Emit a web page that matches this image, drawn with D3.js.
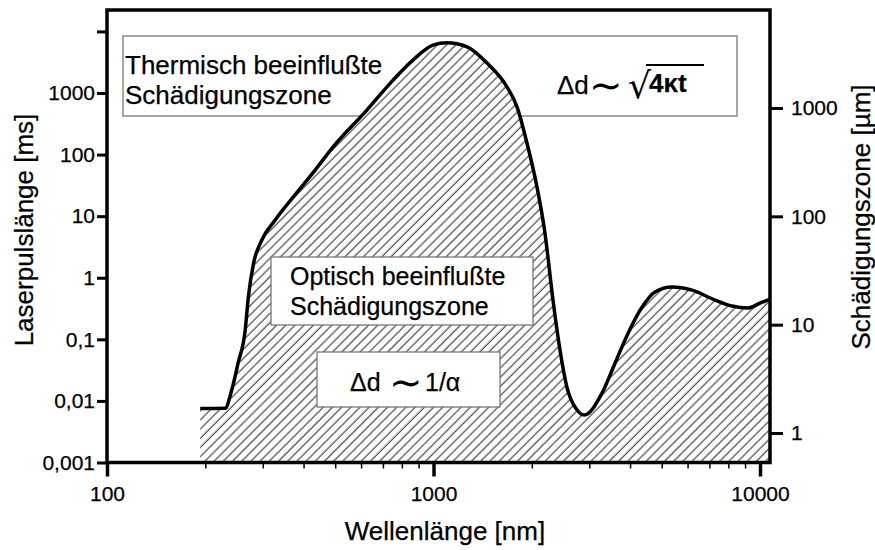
<!DOCTYPE html>
<html>
<head>
<meta charset="utf-8">
<script src="https://cdn.jsdelivr.net/npm/d3@7"></script>
<style>
    body { margin: 0; background: #fff; }
    text { font-family: "Liberation Sans", Arial, Helvetica, sans-serif; fill: #000; stroke: #000; stroke-width: 0.25px; }
</style>
</head>
<body>
<svg id="chart" width="875" height="550"></svg>
<script>

// wavelength [nm] and pulse length [ms]
const wavelength = [193, 230, 241, 252, 265, 271, 281, 298, 327, 376, 434, 492, 625, 752, 865, 996, 1100, 1267, 1459, 1680, 1803, 1933, 2075, 2195, 2323, 2440, 2562, 2752, 2893, 3282, 3597, 3945, 4355, 4768, 5375, 6189, 7279, 8204, 9183, 10000, 10738]
const pulse = [0.0075, 0.0076, 0.015, 0.041, 0.14, 0.49, 1.7, 4.1, 8.6, 22, 56, 132, 527, 1620, 3420, 6000, 6530, 5620, 3060, 1250, 590, 154, 29.7, 5.3, 0.43, 0.067, 0.0168, 0.0071, 0.0059, 0.0134, 0.041, 0.126, 0.334, 0.586, 0.706, 0.63, 0.435, 0.348, 0.322, 0.388, 0.451]

const leftTicks = [0.001, 0.01, 0.1, 1, 10, 100, 1000, 10000]
const leftTickLabels = ['0,001', '0,01', '0,1', '1', '10', '100', '1000', '']
const rightTicks = [1, 10, 100, 1000]
const rightTickLabels = ['1', '10', '100', '1000']
const xTicks = [100, 1000, 10000]
const xTickLabels = ['100', '1000', '10000']
const xMinorTicks = [200, 300, 400, 500, 600, 700, 800, 900, 2000, 3000, 4000, 5000, 6000, 7000, 8000, 9000]

const data = wavelength.map((w, i) => ({ w: w, v: pulse[i] }))

const frame = { left: 107, right: 770, top: 10, bottom: 462.5 }

const x = d3.scaleLog().domain([100, 10000]).range([107, 760])
const y = d3.scaleLog().domain([0.001, 1000]).range([462.5, 93])
const y2 = d3.scaleLog().domain([1, 1000]).range([433, 108])

const svg = d3.select('#chart')

svg.append('defs')
    .append('pattern')
    .attr('id', 'hatch')
    .attr('patternUnits', 'userSpaceOnUse')
    .attr('width', 6.5)
    .attr('height', 6.5)
    .attr('patternTransform', 'rotate(45)')
    .call(p => {
        p.append('rect').attr('width', 6.5).attr('height', 6.5).attr('fill', '#fff')
        p.append('line')
            .attr('x1', 3).attr('x2', 3)
            .attr('y1', 0).attr('y2', 6.5)
            .attr('stroke', '#222')
            .attr('stroke-width', 1)
    })

// box behind the curve
svg.append('rect')
    .attr('x', 123).attr('y', 36)
    .attr('width', 614).attr('height', 80)
    .attr('fill', 'none')
    .attr('stroke', '#777')
    .attr('stroke-width', 1.3)

const area = d3.area()
    .x(d => x(d.w))
    .y0(frame.bottom)
    .y1(d => y(d.v))
    .curve(d3.curveMonotoneX)

const line = d3.line()
    .x(d => x(d.w))
    .y(d => y(d.v))
    .curve(d3.curveMonotoneX)

svg.append('path')
    .datum(data)
    .attr('d', area)
    .attr('fill', 'url(#hatch)')

svg.append('path')
    .datum(data)
    .attr('d', line)
    .attr('fill', 'none')
    .attr('stroke', '#000')
    .attr('stroke-width', 3.5)
    .attr('stroke-linejoin', 'round')

// thermal zone text
svg.selectAll('.thermo')
    .data(['Thermisch beeinflußte', 'Schädigungszone'])
    .join('text')
    .attr('class', 'thermo')
    .attr('x', 125)
    .attr('y', (d, i) => 74 + i * 30)
    .style('font-size', '26px')
    .text(d => d)

svg.append('text').attr('x', 557).attr('y', 94).style('font-size', '26px').text('Δd')
svg.append('text').attr('x', 589).attr('y', 99).style('font-size', '40px').style('font-family', 'DejaVu Sans').style('stroke-width', 0).text('∼')
svg.append('text').attr('x', 628).attr('y', 98).style('font-size', '36px').style('font-family', 'DejaVu Sans').style('stroke-width', 0).text('√')
svg.append('text').attr('x', 649).attr('y', 92).style('font-size', '26px').style('font-weight', 'bold').text('4κt')
svg.append('line')
    .attr('x1', 646).attr('x2', 704)
    .attr('y1', 65).attr('y2', 65)
    .attr('stroke', '#000').attr('stroke-width', 1.8)

// optical zone boxes
svg.append('rect')
    .attr('x', 271).attr('y', 257)
    .attr('width', 262).attr('height', 68)
    .attr('fill', '#fff')
    .attr('stroke', '#777')
    .attr('stroke-width', 1.3)

svg.selectAll('.opt')
    .data(['Optisch beeinflußte', 'Schädigungszone'])
    .join('text')
    .attr('class', 'opt')
    .attr('x', 290)
    .attr('y', (d, i) => 285 + i * 30)
    .style('font-size', '25px')
    .text(d => d)

svg.append('rect')
    .attr('x', 317).attr('y', 352)
    .attr('width', 183).attr('height', 55)
    .attr('fill', '#fff')
    .attr('stroke', '#777')
    .attr('stroke-width', 1.3)

svg.append('text').attr('x', 350).attr('y', 391).style('font-size', '25px').text('Δd')
svg.append('text').attr('x', 389).attr('y', 396).style('font-size', '40px').style('font-family', 'DejaVu Sans').style('stroke-width', 0).text('∼')
svg.append('text').attr('x', 425).attr('y', 391).style('font-size', '25px').text('1/α')

// frame
svg.append('rect')
    .attr('x', frame.left).attr('y', frame.top)
    .attr('width', frame.right - frame.left)
    .attr('height', frame.bottom - frame.top)
    .attr('fill', 'none')
    .attr('stroke', '#000')
    .attr('stroke-width', 3.5)

function styleAxis(g, w) {
    g.select('.domain').remove()
    g.selectAll('.tick line').attr('stroke', '#000').attr('stroke-width', w)
    g.selectAll('.tick text')
        .style('font-size', '21px')
        .style('font-family', '"Liberation Sans", Arial, sans-serif')
        .attr('fill', '#000')
}

svg.append('g')
    .attr('transform', 'translate(' + frame.left + ',0)')
    .call(d3.axisLeft(y).tickValues(leftTicks).tickSize(10).tickPadding(2).tickFormat((d, i) => leftTickLabels[i]))
    .call(g => styleAxis(g, 3))

svg.append('g')
    .attr('transform', 'translate(' + frame.right + ',0)')
    .call(d3.axisRight(y2).tickValues(rightTicks).tickSize(13).tickPadding(8).tickFormat((d, i) => rightTickLabels[i]))
    .call(g => styleAxis(g, 3))

svg.append('g')
    .attr('transform', 'translate(0,' + frame.bottom + ')')
    .call(d3.axisBottom(x).tickValues(xMinorTicks).tickSize(6).tickFormat(''))
    .call(g => styleAxis(g, 1.5))

svg.append('g')
    .attr('transform', 'translate(0,' + frame.bottom + ')')
    .call(d3.axisBottom(x).tickValues(xTicks).tickSize(14).tickPadding(10).tickFormat((d, i) => xTickLabels[i]))
    .call(g => styleAxis(g, 3.5))

// axis titles
svg.append('text')
    .attr('transform', 'translate(33,230) rotate(-90)')
    .attr('text-anchor', 'middle')
    .style('font-size', '26px')
    .text('Laserpulslänge [ms]')

svg.append('text')
    .attr('transform', 'translate(870,217) rotate(-90)')
    .attr('text-anchor', 'middle')
    .style('font-size', '26px')
    .text('Schädigungszone [µm]')

svg.append('text')
    .attr('x', 445)
    .attr('y', 540)
    .attr('text-anchor', 'middle')
    .style('font-size', '26px')
    .text('Wellenlänge [nm]')

</script>
</body>
</html>
